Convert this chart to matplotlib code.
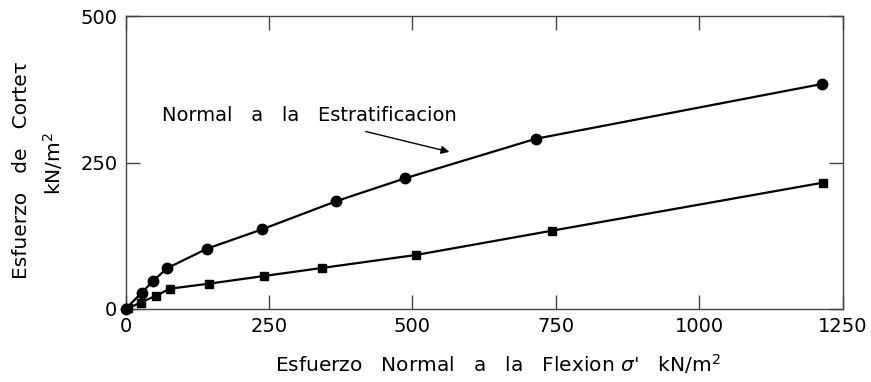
import matplotlib
matplotlib.use('Agg')
import matplotlib.pyplot as plt

# serie normal a la estratificacion (circulos)
x_normal = [0, 28, 48, 72, 142, 238, 367, 487, 715, 1214]
y_normal = [0, 28, 48, 69.5, 103, 136, 184, 223, 290.5, 384]
# serie paralela (cuadrados)
x_paral = [4.5, 26, 53, 77, 145, 241, 342, 506, 743, 1215]
y_paral = [1.2, 11, 22.7, 34.6, 43.2, 56.3, 70, 92.2, 133.6, 215.5]

xticks = [0, 250, 500, 750, 1000, 1250]
yticks = [0, 250, 500]

plt.rcParams['font.family'] = ['DejaVu Sans']
fig = plt.figure(figsize=(8.71, 3.82), dpi=100)
ax = fig.add_axes([0.1443, 0.1911, 0.8232, 0.767])

ax.plot(x_normal, y_normal, color='black', lw=1.6, marker='o', ms=7.5, clip_on=False, zorder=3)
ax.plot(x_paral, y_paral, color='black', lw=1.6, marker='s', ms=6, clip_on=False, zorder=3)

ax.set_xlim(0, 1250)
ax.set_ylim(0, 500)
ax.set_xticks(xticks)
ax.set_yticks(yticks)
ax.tick_params(direction='in', length=10, width=1, color='#444444', labelsize=14,
               top=True, right=True, pad=6)
for s in ax.spines.values():
    s.set_color('#444444')
    s.set_linewidth(1)

# texto y flecha
ax.text(63, 331, 'Normal   a   la   Estratificacion', fontsize=14, ha='left', va='center')
ax.annotate('', xy=(569, 267), xytext=(414, 304),
            arrowprops=dict(arrowstyle='-|>', color='black', lw=1, mutation_scale=12))

# etiquetas de ejes
fig.text(22/871, 1-170/382, 'Esfuerzo   de   Corteτ', rotation=90, ha='center', va='center', fontsize=14.5)
fig.text(53/871, 1-164/382, 'kN/m$^2$', rotation=90, ha='center', va='center', fontsize=14.5)
fig.text(498/871, 1-364/382, "Esfuerzo   Normal   a   la   Flexion $\\sigma$'   kN/m$^2$",
         ha='center', va='center', fontsize=14.5)

fig.savefig('out.png', dpi=100)
